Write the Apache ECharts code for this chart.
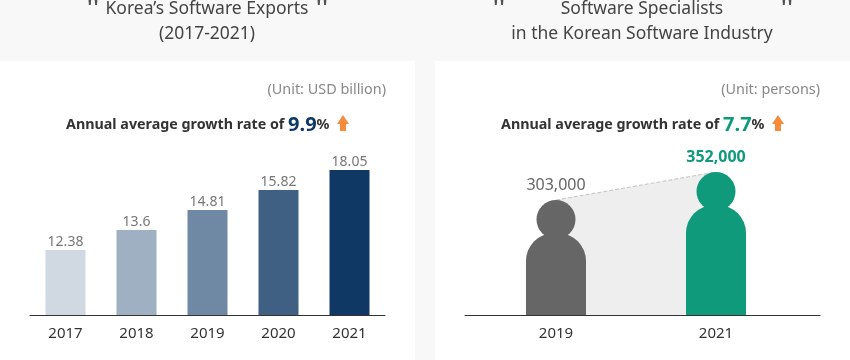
<!DOCTYPE html>
<html>
<head>
<meta charset="utf-8">
<title>Korea's Software Exports and Specialists</title>
<script src="https://cdn.jsdelivr.net/npm/echarts@6/dist/echarts.min.js"></script>
<style>
  html, body { margin: 0; padding: 0; background: #f8f8f8; }
  #main { width: 850px; height: 360px; }
</style>
</head>
<body>
<div id="main"></div>
<script>
// left chart
var exportYears = ['2017', '2018', '2019', '2020', '2021'];
var exportValues = [12.38, 13.6, 14.81, 15.82, 18.05];
// the reference bars are evenly stepped and do not scale with their printed values,
// so bar height is read off the picture in its own units and the label shows the value
var exportLevels = [3.25, 4.25, 5.25, 6.25, 7.25];
var exportColors = ['#d0d8e2', '#9fb0c2', '#6f88a4', '#406083', '#0f3864'];

// right chart
var specialistYears = [2019, 2021];
var specialistValues = [303000, 352000];
var specialistLabels = ['303,000', '352,000'];
var specialistColors = ['#666666', '#109a7c'];

var font = '"Noto Sans", "Open Sans", sans-serif';

function panelText(x, y, text, size, color, align) {
  return {
    type: 'text', x: x, y: y, z: 5,
    style: { text: text, font: size + 'px ' + font, fill: color, align: align || 'center', verticalAlign: 'middle' }
  };
}

function growthText(x, value, color) {
  return {
    type: 'text', x: x, y: 125, z: 5,
    style: {
      text: '{a|Annual average growth rate of }{b|' + value + '}{a|%}',
      verticalAlign: 'middle',
      rich: {
        a: { fontFamily: font, fontSize: 14.3, fontWeight: 'bold', fill: '#333333', color: '#333333' },
        b: { fontFamily: font, fontSize: 20, fontWeight: 'bold', fill: color, color: color }
      }
    }
  };
}

function upArrow(x) {
  return {
    type: 'polygon', z: 5,
    shape: { points: [[x + 6, 115], [x + 12, 124], [x + 9, 124], [x + 9, 131], [x + 3, 131], [x + 3, 124], [x, 124]] },
    style: { fill: '#f68b3b' }
  };
}

function renderPerson(params, api) {
  var i = params.dataIndex;
  var top = api.coord([api.value(0), api.value(1)]);
  var bottom = params.coordSys.y + params.coordSys.height;
  var bodyTop = top[1] + 33;
  var color = specialistColors[i];
  return {
    type: 'group',
    children: [
      { type: 'rect', shape: { x: top[0] - 30, y: bodyTop, width: 60, height: bottom - bodyTop, r: [28, 28, 0, 0] }, style: { fill: color } },
      { type: 'circle', shape: { cx: top[0], cy: top[1] + 19.5, r: 19.5 }, style: { fill: color } },
      {
        type: 'text', x: top[0], y: top[1] - 15,
        style: {
          text: specialistLabels[i], fill: i === 0 ? '#666666' : '#109a7c',
          font: (i === 0 ? 'normal ' : 'bold ') + '16px ' + font, align: 'center', verticalAlign: 'middle'
        }
      }
    ]
  };
}

var chart = echarts.init(document.getElementById('main'));

chart.setOption({
  animation: false,
  backgroundColor: '#f8f8f8',
  textStyle: { fontFamily: font },
  graphic: [
    { type: 'rect', z: 0, shape: { x: 0, y: 61, width: 415, height: 299 }, style: { fill: '#ffffff' } },
    { type: 'rect', z: 0, shape: { x: 435, y: 61, width: 415, height: 299 }, style: { fill: '#ffffff' } },

    panelText(207, 9, 'Korea\u2019s Software Exports', 17.5, '#444444'),
    panelText(207, 34, '(2017-2021)', 17.5, '#444444'),
    panelText(642, 9, 'Software Specialists', 17.5, '#444444'),
    panelText(642, 34, 'in the Korean Software Industry', 17.5, '#444444'),

    panelText(93, 11, '"', 34, '#555555'),
    panelText(322, 11, '"', 34, '#555555'),
    panelText(499, 11, '"', 34, '#555555'),
    panelText(787, 11, '"', 34, '#555555'),

    panelText(386, 90, '(Unit: USD billion)', 14.4, '#888888', 'right'),
    panelText(820, 90, '(Unit: persons)', 14.4, '#888888', 'right'),

    growthText(66, '9.9', '#0f3864'),
    growthText(501, '7.7', '#109a7c'),
    upArrow(337),
    upArrow(772)
  ],
  grid: [
    { left: 30, width: 355, top: 150, height: 165 },
    { left: 465, width: 355, top: 150, height: 165 }
  ],
  xAxis: [
    {
      type: 'category', gridIndex: 0, data: exportYears,
      axisLine: { lineStyle: { color: '#333333', width: 1 } },
      axisTick: { show: false },
      axisLabel: { color: '#333333', fontSize: 15, fontFamily: font, margin: 11 }
    },
    {
      type: 'value', gridIndex: 1, min: 2017.8625, max: 2022.3,
      axisLine: { show: true, onZero: false, lineStyle: { color: '#333333', width: 1 } },
      axisTick: { show: false },
      splitLine: { show: false },
      axisLabel: {
        color: '#333333', fontSize: 15, fontFamily: font, margin: 11,
        customValues: specialistYears,
        formatter: function (v) { return String(v); }
      }
    }
  ],
  yAxis: [
    { type: 'value', gridIndex: 0, min: 0, max: 8.25, show: false },
    { type: 'value', gridIndex: 1, min: 101750, max: 390500, show: false }
  ],
  series: [
    {
      type: 'bar', xAxisIndex: 0, yAxisIndex: 0, barWidth: 40,
      data: exportLevels.map(function (level, i) {
        return { value: level, itemStyle: { color: exportColors[i] } };
      }),
      label: {
        show: true, position: 'top', distance: 1, color: '#777777', fontSize: 14, fontFamily: font,
        formatter: function (p) { return String(exportValues[p.dataIndex]); }
      }
    },
    {
      type: 'line', xAxisIndex: 1, yAxisIndex: 1, symbol: 'none', z: 1,
      data: specialistYears.map(function (y, i) { return [y, specialistValues[i]]; }),
      lineStyle: { color: '#c4c4c4', width: 1, type: 'dashed' },
      areaStyle: { color: '#eeeeee', opacity: 1, origin: 'start' }
    },
    {
      type: 'custom', xAxisIndex: 1, yAxisIndex: 1, z: 3, clip: false,
      renderItem: renderPerson,
      data: specialistYears.map(function (y, i) { return [y, specialistValues[i]]; })
    }
  ]
});
</script>
</body>
</html>
